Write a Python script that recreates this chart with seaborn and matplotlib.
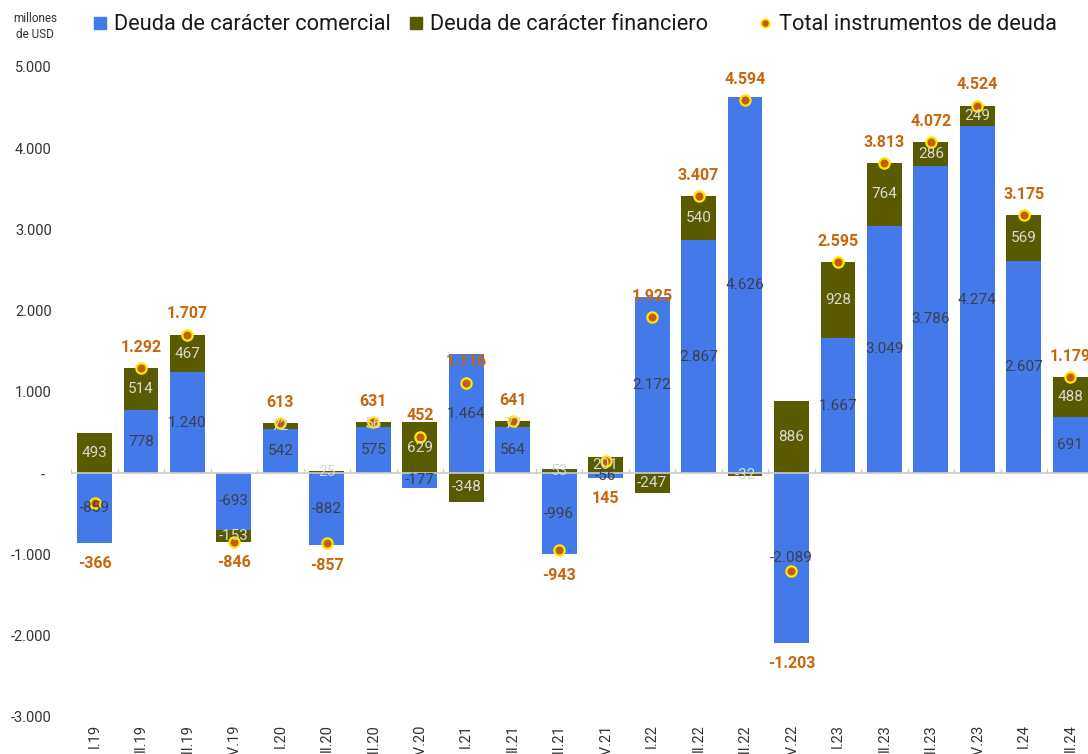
import numpy as np
import pandas as pd
import matplotlib
matplotlib.use("Agg")
import matplotlib.pyplot as plt
from matplotlib.lines import Line2D
import seaborn as sns

quarters = ["I.19", "II.19", "III.19", "IV.19", "I.20", "II.20", "III.20", "IV.20",
            "I.21", "II.21", "III.21", "IV.21", "I.22", "II.22", "III.22", "IV.22",
            "I.23", "II.23", "III.23", "IV.23", "I.24", "II.24"]
comercial = [-859, 778, 1240, -693, 542, -882, 575, -177, 1464, 564, -996, -56,
             2172, 2867, 4626, -2089, 1667, 3049, 3786, 4274, 2607, 691]
financiero = [493, 514, 467, -153, 72, 25, 56, 629, -348, 77, 53, 201,
              -247, 540, -32, 886, 928, 764, 286, 249, 569, 488]
total = [-366, 1292, 1707, -846, 613, -857, 631, 452, 1116, 641, -943, 145,
         1925, 3407, 4594, -1203, 2595, 3813, 4072, 4524, 3175, 1179]
series_names = ["Deuda de carácter comercial", "Deuda de carácter financiero",
                "Total instrumentos de deuda"]
# total labels drawn below the bar
label_below = ["IV.21"]

BLUE = "#4379E9"
OLIVE = "#5A5A00"
DOT = "#C25E00"
DOT_EDGE = "#FFE600"
TOT_TXT = "#C8660C"

sns.set_theme(style="white")
plt.rcParams["font.family"] = ["Roboto", "DejaVu Sans"]

def fmt(v):
    s = f"{abs(v):,}".replace(",", ".")
    return ("-" if v < 0 else "") + s

df = pd.DataFrame({"q": quarters, "com": comercial, "fin": financiero, "tot": total})
x = np.arange(len(quarters))
com = np.array(comercial, dtype=float)
fin = np.array(financiero, dtype=float)
tot = np.array(total, dtype=float)

# diverging stacking: financial sits on top of commercial if same sign, else from zero
fin_bottom = np.where(np.sign(fin) == np.sign(com), com, 0.0)

fig = plt.figure(figsize=(10.88, 7.54), dpi=100)
ax = fig.add_axes([71.3 / 1088, 1 - 717 / 754, (1093.5 - 71.3) / 1088, (717 - 67) / 754])

W = 0.75
sns.barplot(data=df, x="q", y="com", order=quarters, color=BLUE, saturation=1,
            width=W, ax=ax, linewidth=0, zorder=2)
ax.bar(x, fin, width=W, bottom=fin_bottom, color=OLIVE, linewidth=0, zorder=2)

sns.scatterplot(x=x, y=tot, ax=ax, color=DOT, edgecolor=DOT_EDGE, s=55,
                linewidth=1.6, zorder=5, legend=False)

ax.set_xlim(-0.5, len(quarters) - 0.5)
ax.set_ylim(-3000, 5000)

# zero line and category boundary ticks
ax.axhline(0, color="#CCCCCC", lw=1.2, zorder=3)
for b in np.arange(-0.5, len(quarters) + 0.5, 1.0):
    ax.plot([b, b], [0, 55], color="#CCCCCC", lw=1.0, zorder=3)

# segment labels
for i in range(len(quarters)):
    ax.text(x[i], com[i] / 2, fmt(comercial[i]), ha="center", va="center",
            fontsize=11, color="#3B3F4C", zorder=6)
    ax.text(x[i], fin_bottom[i] + fin[i] / 2, fmt(financiero[i]), ha="center",
            va="center", fontsize=11, color="#D9D9D9", zorder=6)

# total labels
for i in range(len(quarters)):
    below = total[i] < 0 or quarters[i] in label_below
    if below:
        low = min(0.0, com[i] if com[i] < 0 else 0.0,
                  (fin_bottom[i] + fin[i]) if fin[i] < 0 else 0.0, tot[i])
        ax.annotate(fmt(total[i]), (x[i], low), xytext=(0, -15),
                    textcoords="offset points", ha="center", va="center",
                    fontsize=11.5, fontweight="bold", color=TOT_TXT, zorder=7)
    else:
        ax.annotate(fmt(total[i]), (x[i], tot[i]), xytext=(0, 15),
                    textcoords="offset points", ha="center", va="center",
                    fontsize=11.5, fontweight="bold", color=TOT_TXT, zorder=7)

yt = np.arange(-3000, 5001, 1000)
ax.set_yticks(yt)
ax.set_yticklabels([("-  " if v == 0 else fmt(int(v))) for v in yt],
                   fontsize=10.5, color="#333333")
ax.set_xticks(x)
ax.set_xticklabels(quarters, rotation=90, fontsize=10.5, color="#333333")
ax.tick_params(axis="y", length=0, pad=14)
ax.tick_params(axis="x", length=0, pad=5)
ax.set_xlabel("")
ax.set_ylabel("")
for s in ax.spines.values():
    s.set_visible(False)
ax.grid(False)

fig.text(35 / 1088, 1 - 27 / 754, "millones\nde USD", ha="center", va="center",
         fontsize=8.5, color="#333333", linespacing=1.3)

handles = [
    Line2D([], [], marker="s", ls="none", markersize=9, color=BLUE),
    Line2D([], [], marker="s", ls="none", markersize=9, color=OLIVE),
    Line2D([], [], marker="o", ls="none", markersize=6, markerfacecolor=DOT,
           markeredgecolor=DOT_EDGE, markeredgewidth=1.3),
]
legend_x = [92, 408, 757]
for h, name, lx in zip(handles, series_names, legend_x):
    fig.legend([h], [name], loc="center left",
               bbox_to_anchor=(lx / 1088, 1 - 25 / 754),
               frameon=False, fontsize=15.7, handlelength=0.7, handletextpad=0.3,
               borderaxespad=0, borderpad=0, labelcolor="#1a1a1a")

fig.savefig("out.png", dpi=100)
